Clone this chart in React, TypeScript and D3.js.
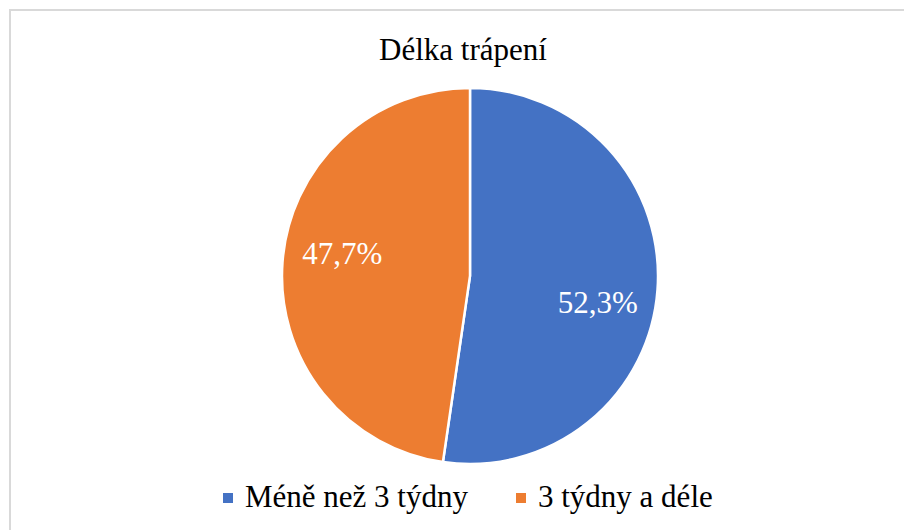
import React from "react";
import * as d3 from "d3";

const title = "Délka trápení";
const categories = ["Méně než 3 týdny", "3 týdny a déle"];
const values = [52.3, 47.7];
const colors = ["#4472C4", "#ED7D31"];

const W = 904;
const H = 530;
const cx = 470;
const cy = 276;
const R = 188;
const labelR = 128;
const labelDy = [17, -13];
const FONT = "Liberation Serif, Times New Roman, Times, serif";

export default function App() {
  const pie = d3.pie<number>().sort(null).value((d) => d)(values);
  const arc = d3.arc<d3.PieArcDatum<number>>().innerRadius(0).outerRadius(R);
  const labelArc = d3.arc<d3.PieArcDatum<number>>().innerRadius(labelR).outerRadius(labelR);
  const fmt = (v: number) => v.toFixed(1).replace(".", ",") + "%";

  const legendX = [223, 516];
  const ts = { fontFamily: FONT };

  return (
    <svg
      width={W}
      height={H}
      style={{ position: "absolute", left: 0, top: 0, background: "#fff", fontFamily: FONT }}
    >
      <rect x={10} y={10} width={W + 20} height={H + 20} fill="#fff" stroke="#d9d9d9" strokeWidth={2} />
      <text x={463} y={60} textAnchor="middle" fontSize={31} fill="#000" style={ts}>
        {title}
      </text>
      <g transform={`translate(${cx},${cy})`}>
        {pie.map((d, i) => (
          <path key={i} d={arc(d) || ""} fill={colors[i]} stroke="#fff" strokeWidth={2.5} />
        ))}
        {pie.map((d, i) => {
          const [x, y] = labelArc.centroid(d);
          return (
            <text
              key={"l" + i}
              x={x}
              y={y + labelDy[i]}
              textAnchor="middle"
              dominantBaseline="central"
              fontSize={31}
              fill="#fff"
              style={ts}
            >
              {fmt(d.data)}
            </text>
          );
        })}
      </g>
      {categories.map((c, i) => (
        <g key={"lg" + i}>
          <rect x={legendX[i]} y={493} width={10} height={10} fill={colors[i]} />
          <text x={legendX[i] + 22} y={507} fontSize={31} fill="#000" style={ts}>
            {c}
          </text>
        </g>
      ))}
    </svg>
  );
}
